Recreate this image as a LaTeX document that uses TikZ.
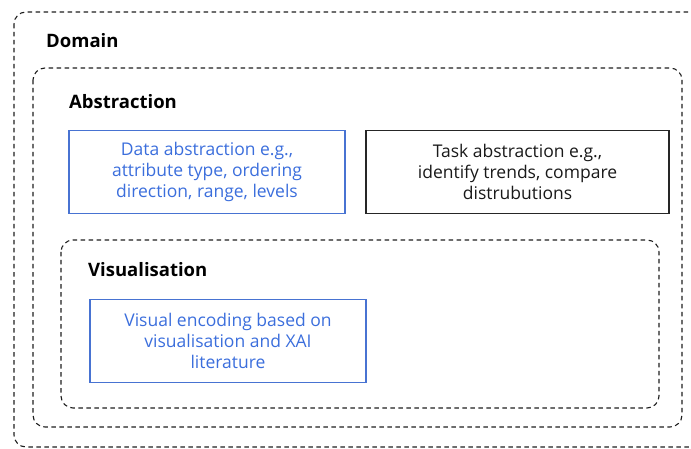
\documentclass[tikz,border=0pt]{standalone}
\usepackage{fontspec}
\setmainfont{Open Sans}
\definecolor{blu}{RGB}{59,110,220}
\definecolor{blubd}{RGB}{72,115,210}
\definecolor{dsh}{RGB}{30,30,30}
\begin{document}
\begin{tikzpicture}[x=1pt,y=-1pt,
  region/.style={draw=dsh,line width=1.1pt,dash pattern=on 4.5pt off 3.5pt,rounded corners=12pt},
  ttl/.style={anchor=west,font=\fontsize{18.5}{21}\selectfont\bfseries,inner sep=0pt},
  bluebox/.style={draw=blubd,line width=1.1pt,text=blu,minimum width=276pt,minimum height=83pt,align=center,font=\fontsize{17.5}{21}\selectfont,inner sep=0pt},
  blackbox/.style={draw=black!85,line width=1.1pt,text=black!90,minimum width=303pt,minimum height=83pt,align=center,font=\fontsize{17.5}{21}\selectfont,inner sep=0pt}]
\useasboundingbox (0,0) rectangle (691,449);
\clip (0,0) rectangle (691,449);
\draw[region] (14,12) rectangle (706,447);
\draw[region] (33,68) rectangle (682,427);
\draw[region] (61,240) rectangle (659,408);
\node[ttl] (dom) at (46,41) {Domain};
\node[ttl] (abs) at (69,102) {Abstraction};
\node[ttl] (vis) at (88,270) {Visualisation};
\node[bluebox] (data) at (207,172) {Data abstraction e.g.,\\attribute type, ordering\\direction, range, levels};
\node[blackbox] (task) at (517.5,172) {Task abstraction e.g.,\\identify trends, compare\\distrubutions};
\node[bluebox] (enc) at (228,341) {Visual encoding based on\\visualisation and XAI\\literature};
\end{tikzpicture}
\end{document}
